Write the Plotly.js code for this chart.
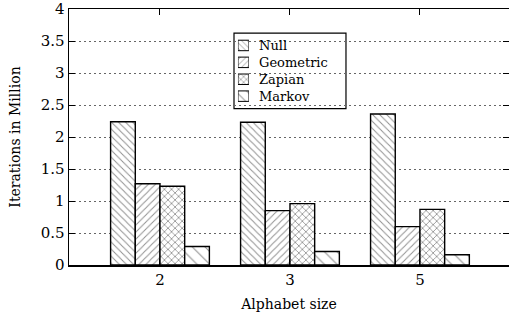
<!DOCTYPE html>
<html>
<head>
<meta charset="utf-8">
<script src="https://cdn.plot.ly/plotly-3.0.1.min.js"></script>
<style>html,body{margin:0;padding:0;background:#fff;}#chart{width:509px;height:312px;}</style>
</head>
<body>
<div id="chart"></div>
<script>
const categories = ['2', '3', '5'];
const seriesNames = ['Null', 'Geometric', 'Zapian', 'Markov'];
const nullVals = [2.24, 2.23, 2.36];
const geometricVals = [1.27, 0.85, 0.60];
const zapianVals = [1.23, 0.96, 0.87];
const markovVals = [0.29, 0.21, 0.16];
const yTickVals = [0, 0.5, 1, 1.5, 2, 2.5, 3, 3.5, 4];
const yTickText = ['0', '0.5', '1', '1.5', '2', '2.5', '3', '3.5', '4'];

const values = [nullVals, geometricVals, zapianVals, markovVals];
const patterns = [
  {shape: '\\', size: 5, solidity: 0.2},
  {shape: '/', size: 5, solidity: 0.2},
  {shape: 'x', size: 5, solidity: 0.3},
  {shape: '\\', size: 9, solidity: 0.12}
];

const serif = '"DejaVu Serif", serif';

function markerFor(i, small) {
  return {
    color: '#ffffff',
    line: {color: '#000000', width: small ? 1 : 1.4},
    pattern: {
      shape: patterns[i].shape,
      size: small ? Math.max(3, patterns[i].size - 1) : patterns[i].size,
      solidity: patterns[i].solidity,
      fgcolor: '#222222', bgcolor: '#ffffff', fillmode: 'overlay'
    }
  };
}

const traces = seriesNames.map((name, i) => ({
  type: 'bar',
  name: name,
  x: categories,
  y: values[i],
  xaxis: 'x', yaxis: 'y',
  marker: markerFor(i, false),
  showlegend: false,
  hoverinfo: 'skip'
}));

// legend keys: one small patterned swatch per series on an inset axis
seriesNames.forEach((name, i) => {
  traces.push({
    type: 'bar',
    orientation: 'h',
    name: name + ' key',
    y: [name],
    x: [1],
    xaxis: 'x2', yaxis: 'y2',
    width: 0.62,
    marker: markerFor(i, true),
    showlegend: false,
    hoverinfo: 'skip'
  });
});

const layout = {
  width: 509,
  height: 312,
  margin: {l: 69, r: 0, t: 9, b: 47},
  paper_bgcolor: '#ffffff',
  plot_bgcolor: '#ffffff',
  font: {family: serif, size: 14, color: '#000000'},
  barmode: 'group',
  bargap: 0.24,
  bargroupgap: 0,
  showlegend: false,
  xaxis: {
    type: 'category',
    range: [-0.7, 2.685],
    showline: true, linecolor: '#000000', linewidth: 1.5,
    mirror: 'ticks', ticks: 'inside', ticklen: 6, tickcolor: '#000000',
    showgrid: false, zeroline: false,
    tickfont: {family: serif, size: 15},
    title: {text: 'Alphabet size', font: {family: serif, size: 14}, standoff: 11}
  },
  yaxis: {
    range: [0, 4.001],
    tickvals: yTickVals, ticktext: yTickText,
    showline: true, linecolor: '#000000', linewidth: 1.5,
    mirror: 'ticks', ticks: 'inside', ticklen: 6, tickcolor: '#000000',
    showgrid: true, gridcolor: '#666666', griddash: '2px,3px', gridwidth: 1,
    zeroline: false,
    tickfont: {family: serif, size: 15},
    title: {text: 'Iterations in Million', font: {family: serif, size: 14}, standoff: 16}
  },
  xaxis2: {
    domain: [0.384, 0.409], range: [0, 1], anchor: 'y2',
    visible: false, fixedrange: true
  },
  yaxis2: {
    domain: [0.6266, 0.8906], anchor: 'x2', type: 'category',
    categoryorder: 'array', categoryarray: seriesNames.slice().reverse(),
    range: [-0.5, 3.5],
    visible: false, fixedrange: true
  },
  shapes: [{
    type: 'rect', xref: 'paper', yref: 'paper',
    x0: 0.375, x1: 0.6295, y0: 0.611, y1: 0.906,
    line: {color: '#000000', width: 1.2},
    fillcolor: '#ffffff', layer: 'below'
  }],
  annotations: [{
    xref: 'paper', yref: 'paper',
    x: 0.4295, y: 0.7586,
    text: seriesNames.join('<br>'),
    showarrow: false,
    xanchor: 'left', yanchor: 'middle', align: 'left',
    borderpad: 0,
    font: {family: serif, size: 13, color: '#000000'}
  }]
};

Plotly.newPlot('chart', traces, layout, {displayModeBar: false, staticPlot: true});
</script>
</body>
</html>
